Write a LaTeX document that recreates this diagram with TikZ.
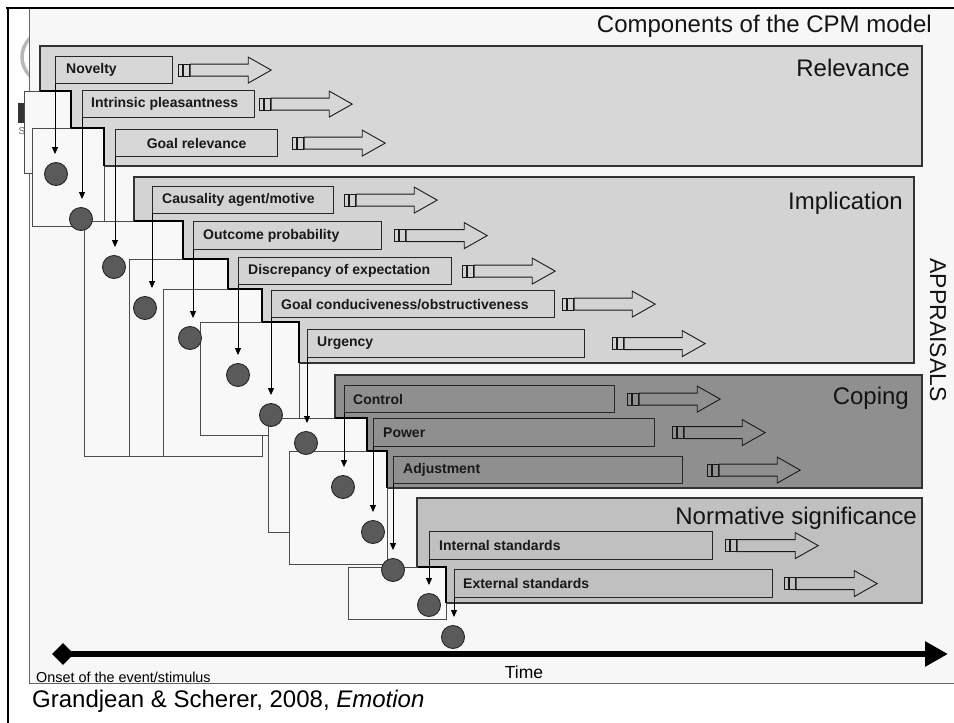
\documentclass[tikz,border=0pt]{standalone}
\usepackage{fontspec}
\setmainfont{Liberation Sans}
\usetikzlibrary{arrows.meta,shapes.geometric,calc}
\definecolor{panelc}{HTML}{F7F7F7}
\definecolor{relc}{HTML}{D7D7D7}
\definecolor{impc}{HTML}{D3D3D3}
\definecolor{copc}{HTML}{8F8F8F}
\definecolor{norc}{HTML}{C0C0C0}
\definecolor{wboxc}{HTML}{F8F8F8}
\definecolor{circc}{HTML}{5A5A5A}
\definecolor{edgec}{HTML}{333333}
\newcommand\blockarr[2]{%
  \begin{scope}[shift={($(#1.east)+(#2,0)$)}]
    \draw[baredge] (0,-6) rectangle (4,6);
    \draw[baredge] (5,-6) rectangle (11,6);
    \draw[baredge] (12,-6) -- (70,-6) -- (70,-13) -- (93,0) -- (70,13) -- (70,6) -- (12,6) -- cycle;
  \end{scope}}
\begin{document}
\begin{tikzpicture}[x=1pt,y=-1pt,
  baredge/.style={draw=black!90, line width=0.9pt},
  grp/.style={draw=edgec, line width=1.1pt},
  lbox/.style={draw=black!85, line width=1.2pt, anchor=north west, inner sep=0pt},
  ltext/.style={anchor=west, inner sep=0pt, font=\fontsize{14}{16}\selectfont\bfseries, text=black!90},
  gtitle/.style={anchor=east, inner sep=0pt, font=\fontsize{24}{28}\selectfont, text=black!92},
  wbox/.style={fill=wboxc, draw=black!70, line width=0.9pt},
  stair/.style={draw=black, line width=2pt},
  dot/.style={circle, fill=circc, draw=black!85, line width=0.9pt, minimum size=23pt, inner sep=0pt},
  varrow/.style={draw=black, line width=0.9pt, -{Triangle[length=7pt,width=6pt]}, shorten >=8pt}]
\fill[white] (0,0) rectangle (954,723);
\useasboundingbox (0,0) rectangle (954,723);
% remnants of the slide behind
\draw[draw=black!28, line width=3.5pt] (48,57) circle[radius=26];
\fill[black!80] (18,103) rectangle (25,123);
\node[anchor=center, inner sep=0pt, font=\fontsize{10}{12}\selectfont, text=black!60] (slogo) at (22,131) {S};
% panel
\draw[fill=panelc, draw=black!60, line width=0.8pt] (29,8) rectangle (970,683);
\draw[line width=2.2pt] (6,8) -- (954,8);
\draw[line width=2pt] (8,7) -- (8,723);
\node[gtitle] (title) at (932,26) {Components of the CPM model};
% groups
\draw[grp, fill=relc] (40,46) rectangle (922,166);
\draw[grp, fill=impc] (134,177) rectangle (914,363);
\draw[grp, fill=copc] (335,375) rectangle (922,488);
\draw[grp, fill=norc] (417,498) rectangle (922,603);
\node[gtitle] (relt) at (910,68) {Relevance};
\node[gtitle] (impt) at (903,203) {Implication};
\node[gtitle] (copt) at (909,398) {Coping};
\node[gtitle] (nort) at (917,518) {Normative significance};
\node[anchor=center, inner sep=0pt, rotate=-90, font=\fontsize{23}{28}\selectfont, text=black!92] (appr) at (938,330) {APPRAISALS};
% label boxes
\node[lbox, fill=relc, minimum width=117pt, minimum height=27pt] (nov) at (55,56) {};
\node[lbox, fill=relc, minimum width=172pt, minimum height=27pt] (intr) at (82,90) {};
\node[lbox, fill=relc, minimum width=162pt, minimum height=27pt] (goal) at (115,129) {};
\node[lbox, fill=impc, minimum width=181pt, minimum height=27pt] (caus) at (152,186) {};
\node[lbox, fill=impc, minimum width=188pt, minimum height=28pt] (outc) at (193,221) {};
\node[lbox, fill=impc, minimum width=213pt, minimum height=27pt] (disc) at (238,257) {};
\node[lbox, fill=impc, minimum width=283pt, minimum height=27pt] (cond) at (271,290) {};
\node[lbox, fill=impc, minimum width=277pt, minimum height=28pt] (urg) at (307,329) {};
\node[lbox, fill=copc, minimum width=270pt, minimum height=27pt] (ctrl) at (344,385) {};
\node[lbox, fill=copc, minimum width=281pt, minimum height=28pt] (pow) at (373,418) {};
\node[lbox, fill=copc, minimum width=289pt, minimum height=27pt] (adj) at (393,456) {};
\node[lbox, fill=norc, minimum width=283pt, minimum height=28pt] (int) at (429,531) {};
\node[lbox, fill=norc, minimum width=318pt, minimum height=28pt] (ext) at (454,569) {};
\node[ltext] (novt) at ([xshift=11pt]nov.west) {Novelty};
\node[ltext] (intrt) at ([xshift=9pt]intr.west) {Intrinsic pleasantness};
\node[ltext, anchor=center] (goalt) at (goal.center) {Goal relevance};
\node[ltext] (caust) at ([xshift=10pt]caus.west) {Causality agent/motive};
\node[ltext] (outct) at ([xshift=10pt]outc.west) {Outcome probability};
\node[ltext] (disct) at ([xshift=10pt]disc.west) {Discrepancy of expectation};
\node[ltext] (condt) at ([xshift=10pt]cond.west) {Goal conduciveness/obstructiveness};
\node[ltext] (urgt) at ([xshift=10pt]urg.west) {Urgency};
\node[ltext] (ctrlt) at ([xshift=9pt]ctrl.west) {Control};
\node[ltext] (powt) at ([xshift=10pt]pow.west) {Power};
\node[ltext] (adjt) at ([xshift=10pt]adj.west) {Adjustment};
\node[ltext] (intt) at ([xshift=10pt]int.west) {Internal standards};
\node[ltext] (extt) at ([xshift=9pt]ext.west) {External standards};
% block arrows
\blockarr{nov}{5}
\blockarr{intr}{4}
\blockarr{goal}{14}
\blockarr{caus}{10}
\blockarr{outc}{12}
\blockarr{disc}{10}
\blockarr{cond}{7}
\blockarr{urg}{27}
\blockarr{ctrl}{12}
\blockarr{pow}{17}
\blockarr{adj}{24}
\blockarr{int}{12}
\blockarr{ext}{11}
% white processing boxes (staircase)
\draw[wbox] (24,91) rectangle (71,173);
\draw[stair] (40,91) -- (71,91) -- (71,166);
\draw[wbox] (32,128) rectangle (104,226);
\draw[stair] (71,128) -- (104,128) -- (104,166);
\draw[wbox] (84,221) rectangle (183,456);
\draw[stair] (134,221) -- (183,221) -- (183,363);
\draw[wbox] (129,259) rectangle (228,456);
\draw[stair] (183,259) -- (228,259) -- (228,363);
\draw[wbox] (163,289) rectangle (262,456);
\draw[stair] (228,289) -- (262,289) -- (262,363);
\draw[wbox] (200,322) rectangle (299,435);
\draw[stair] (262,322) -- (299,322) -- (299,363);
\draw[wbox] (268,418) rectangle (367,532);
\draw[stair] (335,418) -- (367,418) -- (367,488);
\draw[wbox] (289,451) rectangle (387,564);
\draw[stair] (367,451) -- (387,451) -- (387,488);
\draw[wbox] (348,567) rectangle (446,619);
\draw[stair] (418,567) -- (446,567) -- (446,603);
% circles
\node[dot] (c1) at (56,174) {};
\node[dot] (c2) at (81,219) {};
\node[dot] (c3) at (114,267) {};
\node[dot] (c4) at (145,308) {};
\node[dot] (c5) at (190,338) {};
\node[dot] (c6) at (238,375) {};
\node[dot] (c7) at (271,415) {};
\node[dot] (c8) at (306,443) {};
\node[dot] (c9) at (343,487) {};
\node[dot] (c10) at (373,532) {};
\node[dot] (c11) at (393,570) {};
\node[dot] (c12) at (429,605) {};
\node[dot] (c13) at (453,637) {};
% vertical arrows
\draw[varrow] (nov.south west) -- (nov.south west |- c1.north);
\draw[varrow] (intr.south west) -- (intr.south west |- c2.north);
\draw[varrow] (goal.south west) -- (goal.south west |- c3.north);
\draw[varrow] (caus.south west) -- (caus.south west |- c4.north);
\draw[varrow] (outc.south west) -- (outc.south west |- c5.north);
\draw[varrow] (disc.south west) -- (disc.south west |- c6.north);
\draw[varrow] (cond.south west) -- (cond.south west |- c7.north);
\draw[varrow] (urg.south west) -- (urg.south west |- c8.north);
\draw[varrow] (ctrl.south west) -- (ctrl.south west |- c9.north);
\draw[varrow] (pow.south west) -- (pow.south west |- c10.north);
\draw[varrow] (adj.south west) -- (adj.south west |- c11.north);
\draw[varrow] (int.south west) -- (int.south west |- c12.north);
\draw[varrow] (ext.south west) -- (ext.south west |- c13.north);
% time axis
\node[diamond, fill=black, minimum width=22pt, minimum height=22pt, inner sep=0pt] (onset) at (63,654) {};
\coordinate (tend) at (948,654);
\draw[line width=6pt, -{Triangle[length=23pt,width=24pt]}] (onset.center) -- (tend);
\node[anchor=center, inner sep=0pt, font=\fontsize{17.5}{20}\selectfont] (timet) at (524,672) {Time};
\node[anchor=west, inner sep=0pt, font=\fontsize{14.4}{16}\selectfont] (onsett) at (36,677) {Onset of the event/stimulus};
\node[anchor=west, inner sep=0pt, font=\fontsize{24}{28}\selectfont] (capt) at (32,701) {Grandjean \& Scherer, 2008, \textit{Emotion}};
\end{tikzpicture}
\end{document}
